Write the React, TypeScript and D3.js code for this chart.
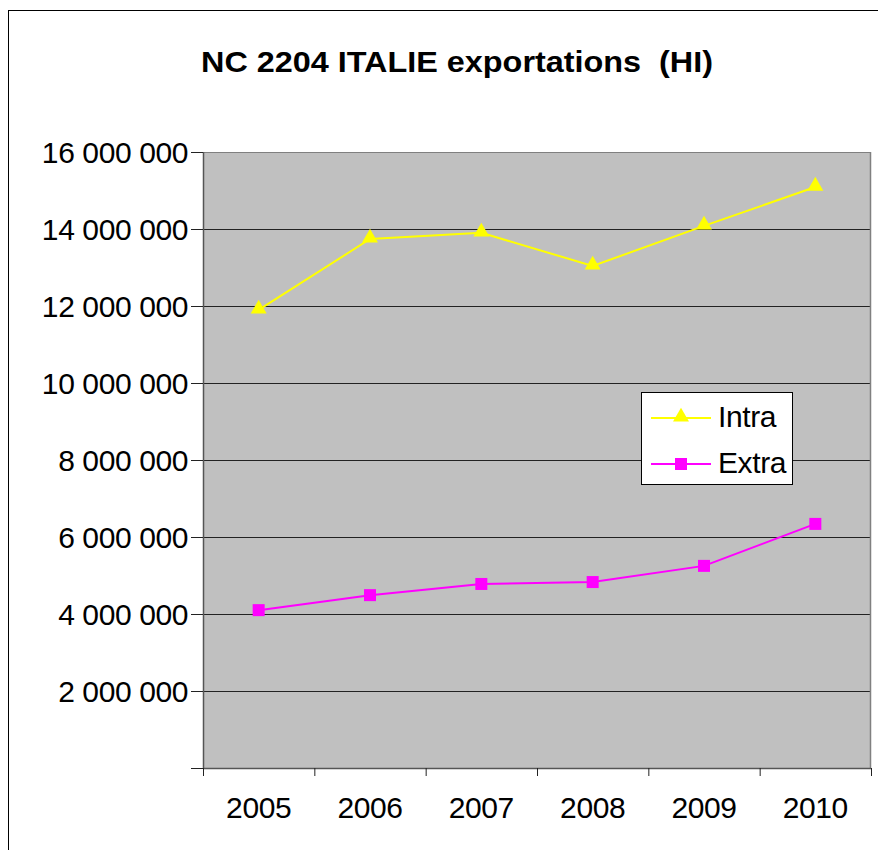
import React from "react";
import * as d3 from "d3";

const years = ["2005", "2006", "2007", "2008", "2009", "2010"];
const intra = [11900000, 13740000, 13900000, 13040000, 14080000, 15090000];
const extra = [4100000, 4490000, 4780000, 4830000, 5250000, 6340000];
const yTicks = [0, 2000000, 4000000, 6000000, 8000000, 10000000, 12000000, 14000000, 16000000];
const title = "NC 2204 ITALIE exportations  (HI)";

const fmt = (v: number) => (v === 0 ? "" : d3.format(",")(v).replace(/,/g, " "));

export default function App() {
  const left = 203, right = 871, top = 152, bottom = 768;
  const x = d3.scaleBand<string>().domain(years).range([left, right]);
  const y = d3.scaleLinear().domain([0, 16000000]).range([bottom, top]);
  const cx = (d: string) => (x(d) as number) + x.bandwidth() / 2;
  const line = d3.line<number>().x((_, i) => cx(years[i])).y((v) => y(v));
  const font = "'Liberation Sans', Arial, sans-serif";
  const tri = d3.symbol().type(d3.symbolTriangle).size(110)();
  const boundaries = years.map((d) => x(d) as number).concat([right]);

  return (
    <svg width={878} height={850} style={{ position: "absolute", left: 0, top: 0, background: "#fff" }} fontFamily={font}>
      <rect x={8.5} y={10.5} width={900} height={900} fill="#fff" stroke="#000" strokeWidth={1} />
      <text x={457} y={72} textAnchor="middle" fontSize={30} fontWeight="bold" textLength={512} lengthAdjust="spacingAndGlyphs" style={{ whiteSpace: "pre" }}>{title}</text>
      <rect x={left} y={top} width={right - left} height={bottom - top} fill="#c0c0c0" />
      {yTicks.filter((t) => t > 0).map((t) => (
        <line key={t} x1={left} x2={right} y1={Math.round(y(t)) + 0.5} y2={Math.round(y(t)) + 0.5} stroke="#222" strokeWidth={1} />
      ))}
      <line x1={right - 0.5} x2={right - 0.5} y1={top} y2={bottom} stroke="#808080" strokeWidth={1.5} />
      <line x1={left} x2={right} y1={top + 0.5} y2={top + 0.5} stroke="#808080" strokeWidth={1} />
      <line x1={left + 0.5} x2={left + 0.5} y1={top} y2={bottom} stroke="#555" strokeWidth={1.5} />
      <line x1={left} x2={right} y1={bottom + 0.5} y2={bottom + 0.5} stroke="#555" strokeWidth={1.5} />
      {yTicks.map((t) => (
        <g key={"yt" + t}>
          <line x1={191} x2={left} y1={Math.round(y(t)) + 0.5} y2={Math.round(y(t)) + 0.5} stroke="#222" />
          <text x={188} y={y(t) + 10.5} textAnchor="end" fontSize={30} letterSpacing={-0.4}>{fmt(t)}</text>
        </g>
      ))}
      {boundaries.map((b, i) => (
        <line key={"xt" + i} x1={b + 0.5} x2={b + 0.5} y1={bottom} y2={bottom + 8} stroke="#222" />
      ))}
      {years.map((d) => (
        <text key={d} x={cx(d)} y={818} textAnchor="middle" fontSize={30} letterSpacing={-0.4}>{d}</text>
      ))}
      <path d={line(intra) || ""} fill="none" stroke="#ffff00" strokeWidth={2} />
      <path d={line(extra) || ""} fill="none" stroke="#ff00ff" strokeWidth={2} />
      {intra.map((v, i) => (
        <path key={"i" + i} d={tri || ""} transform={`translate(${cx(years[i])},${y(v) - 1})`} fill="#ffff00" />
      ))}
      {extra.map((v, i) => (
        <rect key={"e" + i} x={cx(years[i]) - 6} y={y(v) - 6} width={12} height={12} fill="#ff00ff" />
      ))}
      <g>
        <rect x={641.5} y={392.5} width={151} height={92} fill="#fff" stroke="#000" />
        <line x1={651} x2={711} y1={418} y2={418} stroke="#ffff00" strokeWidth={2} />
        <path d={tri || ""} transform="translate(681,417)" fill="#ffff00" />
        <text x={718} y={427} fontSize={30} letterSpacing={-0.4}>Intra</text>
        <line x1={651} x2={711} y1={464} y2={464} stroke="#ff00ff" strokeWidth={2} />
        <rect x={675} y={458} width={12} height={12} fill="#ff00ff" />
        <text x={718} y={473} fontSize={30} letterSpacing={-0.4}>Extra</text>
      </g>
    </svg>
  );
}
